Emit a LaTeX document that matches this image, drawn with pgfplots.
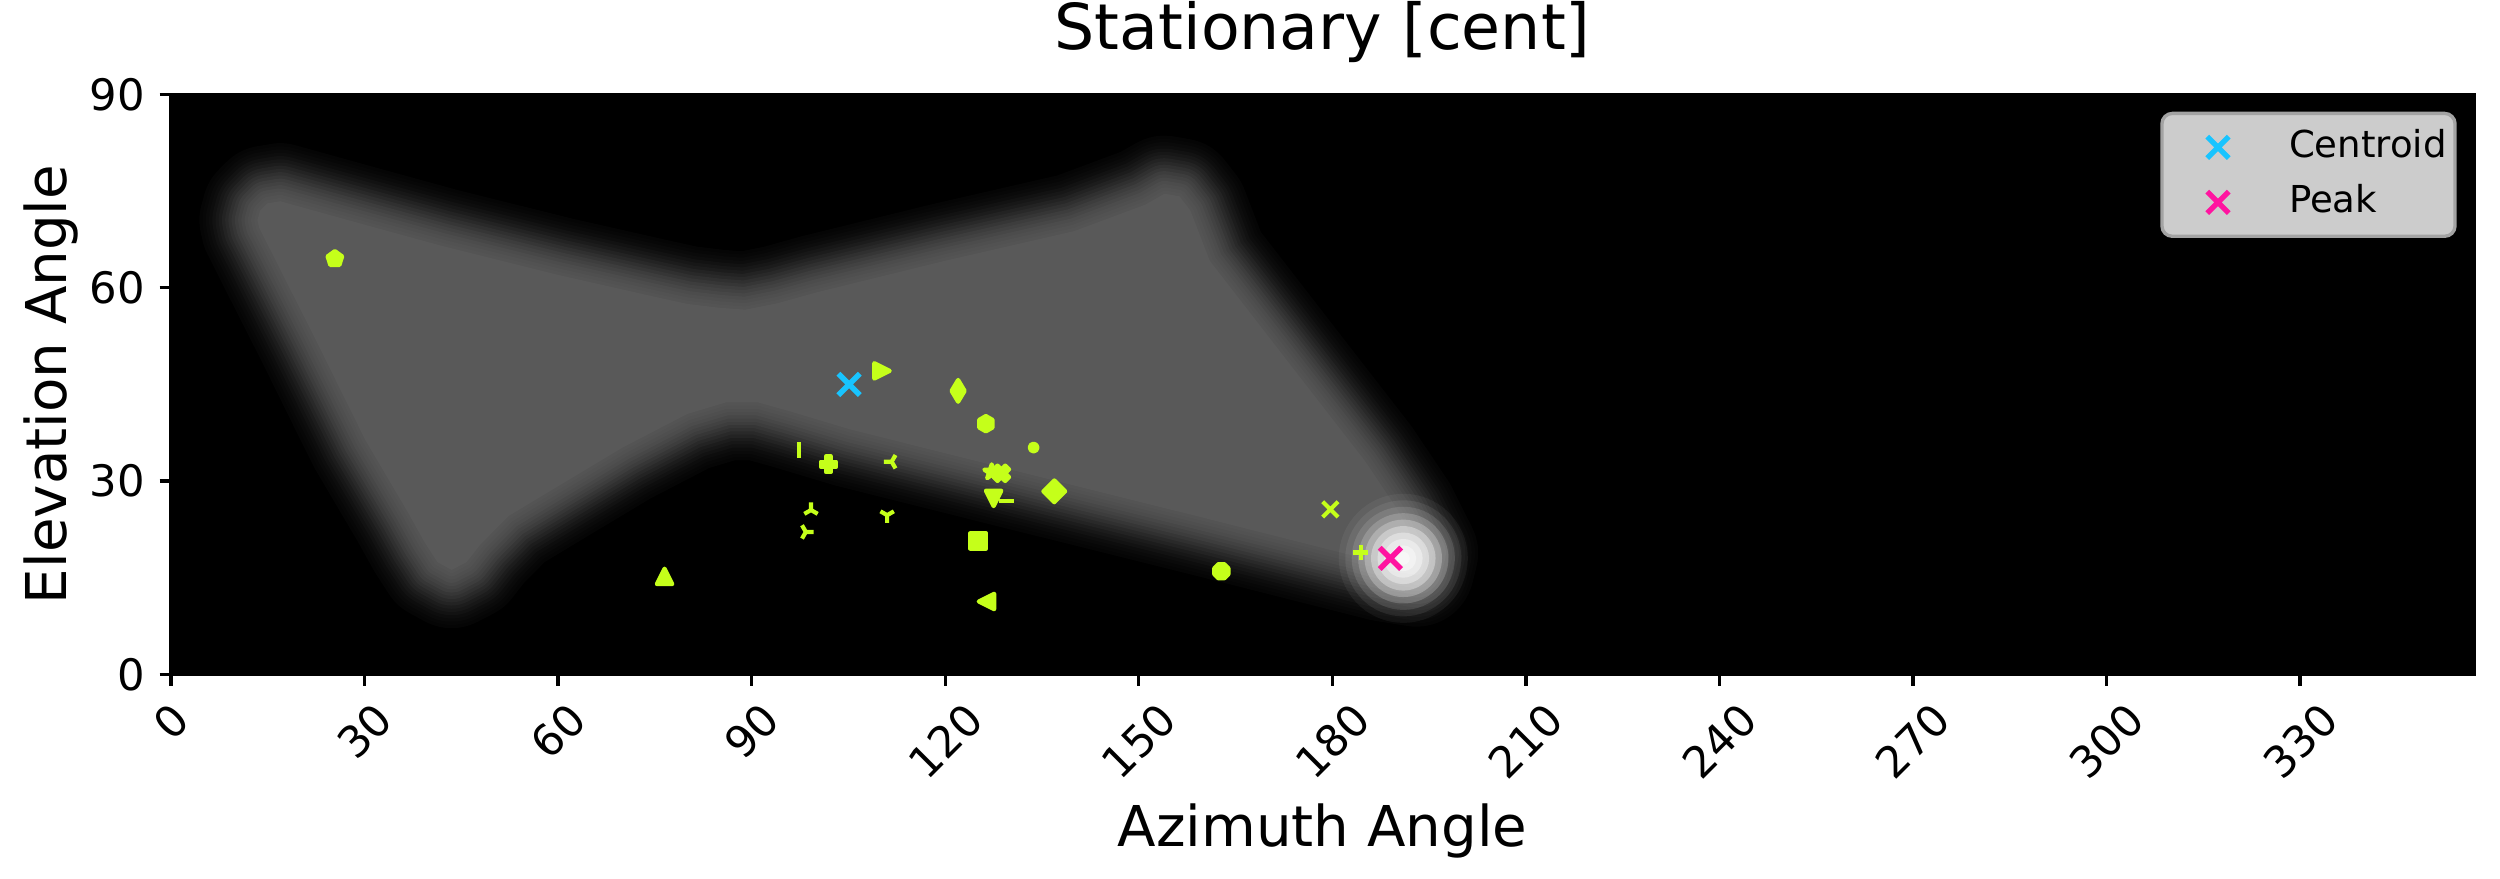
\documentclass[border=0pt]{standalone}
\usepackage{fontspec}
\setmainfont{DejaVu Sans}
\usepackage{graphicx}
\usepackage{pgfplots}
\pgfplotsset{compat=1.18}
\usepackage{pgfplotstable}

\definecolor{lime}{RGB}{197,255,26}
\definecolor{cen}{RGB}{24,196,255}
\definecolor{pk}{RGB}{255,20,160}
\definecolor{shapegray}{RGB}{89,89,89}
\definecolor{legfill}{RGB}{204,204,204}
\definecolor{legedge}{RGB}{163,163,163}

% matplotlib-like marker shapes
\pgfdeclareplotmark{mpltri}{%
  \pgfpathmoveto{\pgfqpoint{0pt}{\pgfplotmarksize}}%
  \pgfpathlineto{\pgfqpoint{-\pgfplotmarksize}{-\pgfplotmarksize}}%
  \pgfpathlineto{\pgfqpoint{\pgfplotmarksize}{-\pgfplotmarksize}}%
  \pgfpathclose\pgfusepathqfillstroke}
\pgfdeclareplotmark{mplsq}{%
  \pgfpathrectangle{\pgfqpoint{-\pgfplotmarksize}{-\pgfplotmarksize}}{\pgfqpoint{2\pgfplotmarksize}{2\pgfplotmarksize}}%
  \pgfusepathqfillstroke}
\pgfdeclareplotmark{mplpent}{%
  \pgfpathmoveto{\pgfpointpolar{90}{\pgfplotmarksize}}%
  \pgfpathlineto{\pgfpointpolar{162}{\pgfplotmarksize}}%
  \pgfpathlineto{\pgfpointpolar{234}{\pgfplotmarksize}}%
  \pgfpathlineto{\pgfpointpolar{306}{\pgfplotmarksize}}%
  \pgfpathlineto{\pgfpointpolar{18}{\pgfplotmarksize}}%
  \pgfpathclose\pgfusepathqfillstroke}
\pgfdeclareplotmark{mplhex}{%
  \pgfpathmoveto{\pgfpointpolar{90}{\pgfplotmarksize}}%
  \pgfpathlineto{\pgfpointpolar{150}{\pgfplotmarksize}}%
  \pgfpathlineto{\pgfpointpolar{210}{\pgfplotmarksize}}%
  \pgfpathlineto{\pgfpointpolar{270}{\pgfplotmarksize}}%
  \pgfpathlineto{\pgfpointpolar{330}{\pgfplotmarksize}}%
  \pgfpathlineto{\pgfpointpolar{30}{\pgfplotmarksize}}%
  \pgfpathclose\pgfusepathqfillstroke}
\pgfdeclareplotmark{mploct}{%
  \pgfpathmoveto{\pgfpointpolar{22.5}{\pgfplotmarksize}}%
  \pgfpathlineto{\pgfpointpolar{67.5}{\pgfplotmarksize}}%
  \pgfpathlineto{\pgfpointpolar{112.5}{\pgfplotmarksize}}%
  \pgfpathlineto{\pgfpointpolar{157.5}{\pgfplotmarksize}}%
  \pgfpathlineto{\pgfpointpolar{202.5}{\pgfplotmarksize}}%
  \pgfpathlineto{\pgfpointpolar{247.5}{\pgfplotmarksize}}%
  \pgfpathlineto{\pgfpointpolar{292.5}{\pgfplotmarksize}}%
  \pgfpathlineto{\pgfpointpolar{337.5}{\pgfplotmarksize}}%
  \pgfpathclose\pgfusepathqfillstroke}
\pgfdeclareplotmark{mplstar}{%
  \pgfpathmoveto{\pgfpointpolar{90}{\pgfplotmarksize}}%
  \pgfpathlineto{\pgfpointpolar{126}{0.382\pgfplotmarksize}}%
  \pgfpathlineto{\pgfpointpolar{162}{\pgfplotmarksize}}%
  \pgfpathlineto{\pgfpointpolar{198}{0.382\pgfplotmarksize}}%
  \pgfpathlineto{\pgfpointpolar{234}{\pgfplotmarksize}}%
  \pgfpathlineto{\pgfpointpolar{270}{0.382\pgfplotmarksize}}%
  \pgfpathlineto{\pgfpointpolar{306}{\pgfplotmarksize}}%
  \pgfpathlineto{\pgfpointpolar{342}{0.382\pgfplotmarksize}}%
  \pgfpathlineto{\pgfpointpolar{18}{\pgfplotmarksize}}%
  \pgfpathlineto{\pgfpointpolar{54}{0.382\pgfplotmarksize}}%
  \pgfpathclose\pgfusepathqfillstroke}
\pgfdeclareplotmark{mpldiam}{%
  \pgfpathmoveto{\pgfqpoint{0pt}{1.414\pgfplotmarksize}}%
  \pgfpathlineto{\pgfqpoint{1.414\pgfplotmarksize}{0pt}}%
  \pgfpathlineto{\pgfqpoint{0pt}{-1.414\pgfplotmarksize}}%
  \pgfpathlineto{\pgfqpoint{-1.414\pgfplotmarksize}{0pt}}%
  \pgfpathclose\pgfusepathqfillstroke}
\pgfdeclareplotmark{mplthin}{%
  \pgfpathmoveto{\pgfqpoint{0pt}{1.414\pgfplotmarksize}}%
  \pgfpathlineto{\pgfqpoint{0.849\pgfplotmarksize}{0pt}}%
  \pgfpathlineto{\pgfqpoint{0pt}{-1.414\pgfplotmarksize}}%
  \pgfpathlineto{\pgfqpoint{-0.849\pgfplotmarksize}{0pt}}%
  \pgfpathclose\pgfusepathqfillstroke}
\pgfdeclareplotmark{mplP}{%
  \pgfpathmoveto{\pgfqpoint{-0.333\pgfplotmarksize}{-\pgfplotmarksize}}%
  \pgfpathlineto{\pgfqpoint{0.333\pgfplotmarksize}{-\pgfplotmarksize}}%
  \pgfpathlineto{\pgfqpoint{0.333\pgfplotmarksize}{-0.333\pgfplotmarksize}}%
  \pgfpathlineto{\pgfqpoint{\pgfplotmarksize}{-0.333\pgfplotmarksize}}%
  \pgfpathlineto{\pgfqpoint{\pgfplotmarksize}{0.333\pgfplotmarksize}}%
  \pgfpathlineto{\pgfqpoint{0.333\pgfplotmarksize}{0.333\pgfplotmarksize}}%
  \pgfpathlineto{\pgfqpoint{0.333\pgfplotmarksize}{\pgfplotmarksize}}%
  \pgfpathlineto{\pgfqpoint{-0.333\pgfplotmarksize}{\pgfplotmarksize}}%
  \pgfpathlineto{\pgfqpoint{-0.333\pgfplotmarksize}{0.333\pgfplotmarksize}}%
  \pgfpathlineto{\pgfqpoint{-\pgfplotmarksize}{0.333\pgfplotmarksize}}%
  \pgfpathlineto{\pgfqpoint{-\pgfplotmarksize}{-0.333\pgfplotmarksize}}%
  \pgfpathlineto{\pgfqpoint{-0.333\pgfplotmarksize}{-0.333\pgfplotmarksize}}%
  \pgfpathclose\pgfusepathqfillstroke}
\pgfdeclareplotmark{mplX}{%
  \pgfpathmoveto{\pgfqpoint{-0.5\pgfplotmarksize}{-\pgfplotmarksize}}%
  \pgfpathlineto{\pgfqpoint{0pt}{-0.5\pgfplotmarksize}}%
  \pgfpathlineto{\pgfqpoint{0.5\pgfplotmarksize}{-\pgfplotmarksize}}%
  \pgfpathlineto{\pgfqpoint{\pgfplotmarksize}{-0.5\pgfplotmarksize}}%
  \pgfpathlineto{\pgfqpoint{0.5\pgfplotmarksize}{0pt}}%
  \pgfpathlineto{\pgfqpoint{\pgfplotmarksize}{0.5\pgfplotmarksize}}%
  \pgfpathlineto{\pgfqpoint{0.5\pgfplotmarksize}{\pgfplotmarksize}}%
  \pgfpathlineto{\pgfqpoint{0pt}{0.5\pgfplotmarksize}}%
  \pgfpathlineto{\pgfqpoint{-0.5\pgfplotmarksize}{\pgfplotmarksize}}%
  \pgfpathlineto{\pgfqpoint{-\pgfplotmarksize}{0.5\pgfplotmarksize}}%
  \pgfpathlineto{\pgfqpoint{-0.5\pgfplotmarksize}{0pt}}%
  \pgfpathlineto{\pgfqpoint{-\pgfplotmarksize}{-0.5\pgfplotmarksize}}%
  \pgfpathclose\pgfusepathqfillstroke}
\pgfdeclareplotmark{tri1}{% tri_down
  \pgfpathmoveto{\pgfpointorigin}\pgfpathlineto{\pgfpointpolar{270}{\pgfplotmarksize}}%
  \pgfpathmoveto{\pgfpointorigin}\pgfpathlineto{\pgfpointpolar{30}{\pgfplotmarksize}}%
  \pgfpathmoveto{\pgfpointorigin}\pgfpathlineto{\pgfpointpolar{150}{\pgfplotmarksize}}%
  \pgfusepathqstroke}
\pgfdeclareplotmark{tri2}{% tri_up
  \pgfpathmoveto{\pgfpointorigin}\pgfpathlineto{\pgfpointpolar{90}{\pgfplotmarksize}}%
  \pgfpathmoveto{\pgfpointorigin}\pgfpathlineto{\pgfpointpolar{210}{\pgfplotmarksize}}%
  \pgfpathmoveto{\pgfpointorigin}\pgfpathlineto{\pgfpointpolar{330}{\pgfplotmarksize}}%
  \pgfusepathqstroke}
\pgfdeclareplotmark{tri3}{% tri_left
  \pgfpathmoveto{\pgfpointorigin}\pgfpathlineto{\pgfpointpolar{180}{\pgfplotmarksize}}%
  \pgfpathmoveto{\pgfpointorigin}\pgfpathlineto{\pgfpointpolar{60}{\pgfplotmarksize}}%
  \pgfpathmoveto{\pgfpointorigin}\pgfpathlineto{\pgfpointpolar{300}{\pgfplotmarksize}}%
  \pgfusepathqstroke}
\pgfdeclareplotmark{tri4}{% tri_right
  \pgfpathmoveto{\pgfpointorigin}\pgfpathlineto{\pgfpointpolar{0}{\pgfplotmarksize}}%
  \pgfpathmoveto{\pgfpointorigin}\pgfpathlineto{\pgfpointpolar{120}{\pgfplotmarksize}}%
  \pgfpathmoveto{\pgfpointorigin}\pgfpathlineto{\pgfpointpolar{240}{\pgfplotmarksize}}%
  \pgfusepathqstroke}
\pgfdeclareplotmark{tickr}{%
  \pgfpathmoveto{\pgfpointorigin}\pgfpathlineto{\pgfqpoint{2\pgfplotmarksize}{0pt}}%
  \pgfusepathqstroke}
\pgfdeclareplotmark{disc}{% fill only, no outline
  \pgfpathcircle{\pgfpointorigin}{\pgfplotmarksize}\pgfusepathqfill}

% outline of the intensity region (inner core)
\pgfplotstableread{
x y
13.67 69.3
13.4 70.5
13.81 72.0
14.9 73.1
16.91 73.44
30 69.8
42 66.5
60 62.0
75 58.6
80 57.5
85 56.9
89 56.6
94 57.6
100.1 59.3
120 64.2
140 68.8
151 72.9
154 74.6
156.3 74.2
158 72.0
161 64.2
175 46.1
185 33.2
190.5 25
193.6 18.8
193 16.4
188 17.2
160 24.3
130 31.8
105.3 38.0
96 40.8
91 42.2
86 42.2
80 40.4
70 35.2
60 29.2
52.3 24.55
48 20.2
45.8 17.4
43.5 16.2
41.3 17.4
39.3 20.5
36.8 25
30.1 36.4
22.2 52.4
}\shapetab

\newcommand{\blurlayer}[2]{%
  \addplot[forget plot, draw=shapegray!#2!black, fill=shapegray!#2!black,
    line width=#1bp, line join=round, line cap=round] table {\shapetab} -- cycle;}
\newcommand{\glowlayer}[2]{%
  \addplot[forget plot, only marks, mark=disc, mark size=#1bp, color=white,
    mark options={fill=white, fill opacity=#2}] coordinates {(191,18)};}

\pgfplotsset{
  mk/.style={forget plot, only marks, color=lime, mark size=1.85bp,
    mark options={draw=lime, fill=lime, line width=1bp, line join=round}},
}

\begin{document}
\begin{tikzpicture}
\useasboundingbox (-41.04bp,-49.13bp) rectangle (558.97bp,161.83bp);
\begin{axis}[
  width=552.8bp, height=139.15bp, scale only axis,
  xmin=0, xmax=357, ymin=0, ymax=90,
  axis background/.style={fill=black},
  axis on top,
  axis line style={line width=0.8bp},
  tick align=outside, tick pos=left,
  major tick length=2.7bp,
  every tick/.style={black, line width=0.8bp},
  xtick={0,30,...,330},
  xticklabels={\rotatebox{45}{0},\rotatebox{45}{30},\rotatebox{45}{60},\rotatebox{45}{90},
    \rotatebox{45}{120},\rotatebox{45}{150},\rotatebox{45}{180},\rotatebox{45}{210},
    \rotatebox{45}{240},\rotatebox{45}{270},\rotatebox{45}{300},\rotatebox{45}{330}},
  ytick={0,30,60,90},
  /pgf/number format/assume math mode=true,
  tick label style={font=\fontsize{10.4bp}{12bp}\selectfont},
  xticklabel style={anchor=north},
  title={Stationary [cent]},
  title style={font=\fontsize{15.2bp}{18bp}\selectfont, at={(axis description cs:0.5,1.0354)}, anchor=base},
  xlabel={Azimuth Angle},
  xlabel style={font=\fontsize{13.5bp}{16bp}\selectfont, at={(axis description cs:0.5,-0.2975)}, anchor=base},
  ylabel={Elevation Angle},
  ylabel style={font=\fontsize{13.5bp}{16bp}\selectfont, at={(axis description cs:-0.04523,0.5)}, anchor=base},
  legend style={at={(axis description cs:0.99237,0.97032)}, anchor=north east,
    fill=legfill, draw=legedge, line width=0.8bp, rounded corners=2.5bp,
    font=\fontsize{8.9bp}{10.7bp}\selectfont,
    inner xsep=1.15bp, inner ysep=1.55bp,
    nodes={inner xsep=0.85bp, inner ysep=2.4bp, text height=6.6bp, text depth=1.8bp},
    cells={anchor=west}},
  legend image code/.code={%
    \path (0bp,0bp) (27.2bp,0bp);
    \draw[#1] plot coordinates {(11.65bp,0bp)};},
]
% blurred intensity region
\blurlayer{27.86}{6}
\blurlayer{26.32}{8}
\blurlayer{24.77}{11}
\blurlayer{23.22}{15}
\blurlayer{21.67}{20}
\blurlayer{20.12}{26}
\blurlayer{18.58}{32}
\blurlayer{17.03}{39}
\blurlayer{15.48}{46}
\blurlayer{13.93}{54}
\blurlayer{12.38}{61}
\blurlayer{10.84}{68}
\blurlayer{9.29}{74}
\blurlayer{7.74}{80}
\blurlayer{6.19}{85}
\blurlayer{4.64}{89}
\blurlayer{3.10}{92}
\blurlayer{1.55}{94}
\addplot[forget plot, draw=none, fill=shapegray] table {\shapetab} -- cycle;
% bright spot
\glowlayer{15.48}{0.05}
\glowlayer{13.93}{0.074}
\glowlayer{12.38}{0.114}
\glowlayer{10.84}{0.18}
\glowlayer{9.29}{0.25}
\glowlayer{7.74}{0.333}
\glowlayer{6.19}{0.375}
\glowlayer{4.64}{0.4}
\glowlayer{3.10}{0.417}
\glowlayer{1.55}{0.43}

% individual sources
\addplot[mk, mark=mplpent] coordinates {(25.4,64.5)};
\addplot[mk, mark=mpltri] coordinates {(76.5,15.2)};
\addplot[mk, mark=|] coordinates {(97.4,34.8)};
\addplot[mk, mark=mplP] coordinates {(101.9,32.6)};
\addplot[mk, mark=tri2] coordinates {(99.2,25.5)};
\addplot[mk, mark=tri4] coordinates {(98.4,22.1)};
\addplot[mk, mark=tri1] coordinates {(111.0,24.7)};
\addplot[mk, mark=tri3] coordinates {(111.7,33.0)};
\addplot[mk, mark=mpltri, every mark/.append style={rotate=-90}] coordinates {(110.2,47.1)};
\addplot[mk, mark=mplthin] coordinates {(122.0,44.0)};
\addplot[mk, mark=mplhex] coordinates {(126.3,38.9)};
\addplot[mk, mark=*, mark size=0.925bp] coordinates {(133.7,35.2)};
\addplot[mk, mark=mplstar] coordinates {(127.2,31.4)};
\addplot[mk, mark=mplX] coordinates {(128.7,31.2)};
\addplot[mk, mark=mpltri, every mark/.append style={rotate=180}] coordinates {(127.5,27.3)};
\addplot[mk, mark=tickr] coordinates {(128.3,26.9)};
\addplot[mk, mark=mpldiam] coordinates {(136.9,28.4)};
\addplot[mk, mark=mplsq] coordinates {(125.1,20.7)};
\addplot[mk, mark=mpltri, every mark/.append style={rotate=90}] coordinates {(126.4,11.3)};
\addplot[mk, mark=mploct] coordinates {(162.8,16.0)};
\addplot[mk, mark=x, mark size=2.62bp] coordinates {(179.7,25.6)};
\addplot[mk, mark=+] coordinates {(184.4,18.9)};

% centroid and peak
\addplot[only marks, mark=x, mark size=3.64bp, color=cen, line width=1.3bp] coordinates {(105.1,45.0)};
\addlegendentry{Centroid}
\addplot[only marks, mark=x, mark size=3.64bp, color=pk, line width=1.3bp] coordinates {(189.0,18.0)};
\addlegendentry{Peak}
\end{axis}
\end{tikzpicture}
\end{document}
